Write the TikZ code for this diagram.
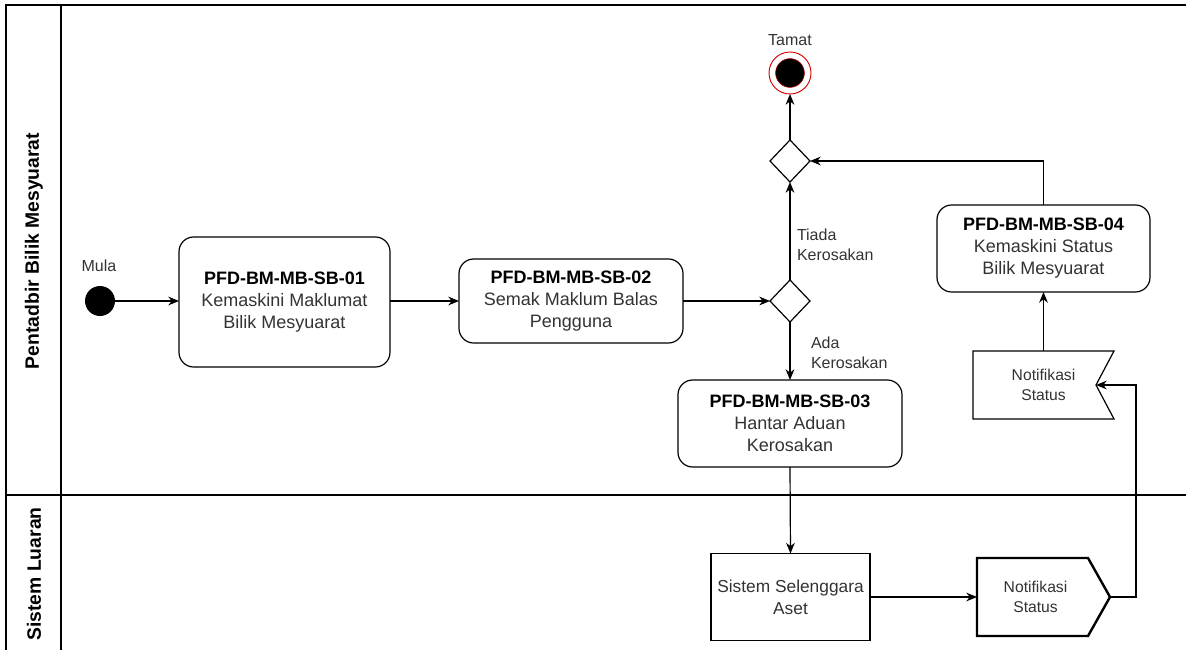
\documentclass[tikz,border=0pt]{standalone}
\usepackage{fontspec}
\setmainfont{Liberation Sans}
\usetikzlibrary{arrows.meta,shapes.geometric}
\definecolor{txt}{HTML}{333333}
\begin{document}
\begin{tikzpicture}[x=0.75pt,y=-0.75pt,
  every node/.style={inner sep=0pt,outer sep=0pt},
  edge/.style={line width=0.9pt,draw=black},
  arr/.style={edge,-{Stealth[length=8pt,width=6.5pt,inset=2.5pt]}},
  lanetitle/.style={rotate=90,font=\bfseries\fontsize{14.5}{17}\selectfont,text=black},
  act/.style={draw=black,line width=0.9pt,rectangle,rounded corners=11pt,fill=white,align=center,
    font=\fontsize{13.5}{16.5}\selectfont,text=txt},
  plain/.style={draw=black,line width=0.9pt,rectangle,fill=white,align=center,
    font=\fontsize{13}{16.5}\selectfont,text=txt},
  decision/.style={draw=black,line width=0.9pt,diamond,aspect=1,fill=white,minimum width=30pt,minimum height=31.5pt},
  sig/.style={rectangle,align=center,font=\fontsize{11.75}{15}\selectfont,text=txt},
  lbl/.style={align=left,font=\fontsize{12}{15}\selectfont,text=txt}]

\useasboundingbox (0,0) rectangle (1186,650);
\fill[white] (0,0) rectangle (1186,650);

% swimlane frame
\draw[line width=1pt] (1186,5) -- (6,5) -- (6,650);
\draw[line width=1pt] (61,5) -- (61,650);
\draw[line width=1pt] (6,495) -- (1186,495);
\node[lanetitle] (laneA) at (34,251) {Pentadbir Bilik Mesyuarat};
\node[lanetitle] (laneB) at (34,574) {Sistem Luaran};

% start / end
\node[circle,fill=black,minimum size=22.5pt] (mula) at (100,301) {};
\node[lbl,anchor=center] (mulaT) at (99,266) {Mula};
\node[circle,draw=red!85!black,line width=0.7pt,fill=white,minimum size=31.5pt] (tamat) at (790,73) {};
\fill[black,draw=red!70!black,line width=0.4pt] (tamat.center) circle (10.8pt);
\node[lbl,anchor=center] (tamatT) at (790,40) {Tamat};

% activities
\node[act,minimum width=158.25pt,minimum height=97.5pt] (b1) at (284.5,302)
  {\raisebox{-2pt}{}{\bfseries\color{black}PFD-BM-MB-SB-01}\\Kemaskini Maklumat\\Bilik Mesyuarat};
\node[act,minimum width=168pt,minimum height=63pt] (b2) at (571,301)
  {{\bfseries\color{black}PFD-BM-MB-SB-02}\\Semak Maklum Balas\\Pengguna};
\node[act,minimum width=168pt,minimum height=65.25pt] (b3) at (790,423.5)
  {{\bfseries\color{black}PFD-BM-MB-SB-03}\\Hantar Aduan\\Kerosakan};
\node[act,minimum width=159.75pt,minimum height=65.25pt] (b4) at (1043.5,248.5)
  {{\bfseries\color{black}PFD-BM-MB-SB-04}\\Kemaskini Status\\Bilik Mesyuarat};
\node[plain,minimum width=119.25pt,minimum height=65.25pt] (sys) at (790.5,597)
  {Sistem Selenggara\\Aset};

% decisions
\node[decision] (d1) at (790,301) {};
\node[decision] (d2) at (790,161) {};
\node[lbl,anchor=west] (tiada) at (797,245) {Tiada\\Kerosakan};
\node[lbl,anchor=west] (ada) at (811,353) {Ada\\Kerosakan};

% signals
\node[sig,minimum width=105.75pt,minimum height=51pt] (n1) at (1043.5,385) {Notifikasi\\Status};
\coordinate (n1in) at ([xshift=-13.5pt]n1.east);
\draw[line width=0.9pt] (n1.north west) -- (n1.north east) -- (n1in) -- (n1.south east)
  -- (n1.south west) -- cycle;
\node[sig,minimum width=99.75pt,minimum height=58.5pt] (n2) at (1043.5,597) {};
\draw[line width=1.8pt,line join=miter] (n2.north west) -- ([xshift=-16.5pt]n2.north east) -- (n2.east)
  -- ([xshift=-16.5pt]n2.south east) -- (n2.south west) -- cycle;
\node[sig] (n2t) at ([xshift=-6pt]n2.center) {Notifikasi\\Status};

% flows
\draw[arr] (mula.east) -- (b1.west |- mula.east);
\draw[arr] (b1.east |- b2.west) -- (b2.west);
\draw[arr] (b2.east) -- (d1.west);
\draw[arr] (d1.north) -- (d2.south);
\draw[arr] (d2.north) -- (tamat.south);
\draw[arr] (d1.south) -- (b3.north);
\draw[arr] (b3.south) -- (sys.north);
\draw[arr] (sys.east) -- (n2.west);
\draw[arr] (n2.east) -- ++(19.5pt,0) |- (n1in);
\draw[arr] (n1.north) -- (b4.south);
\draw[arr] (b4.north) |- (d2.east);
\end{tikzpicture}
\end{document}
